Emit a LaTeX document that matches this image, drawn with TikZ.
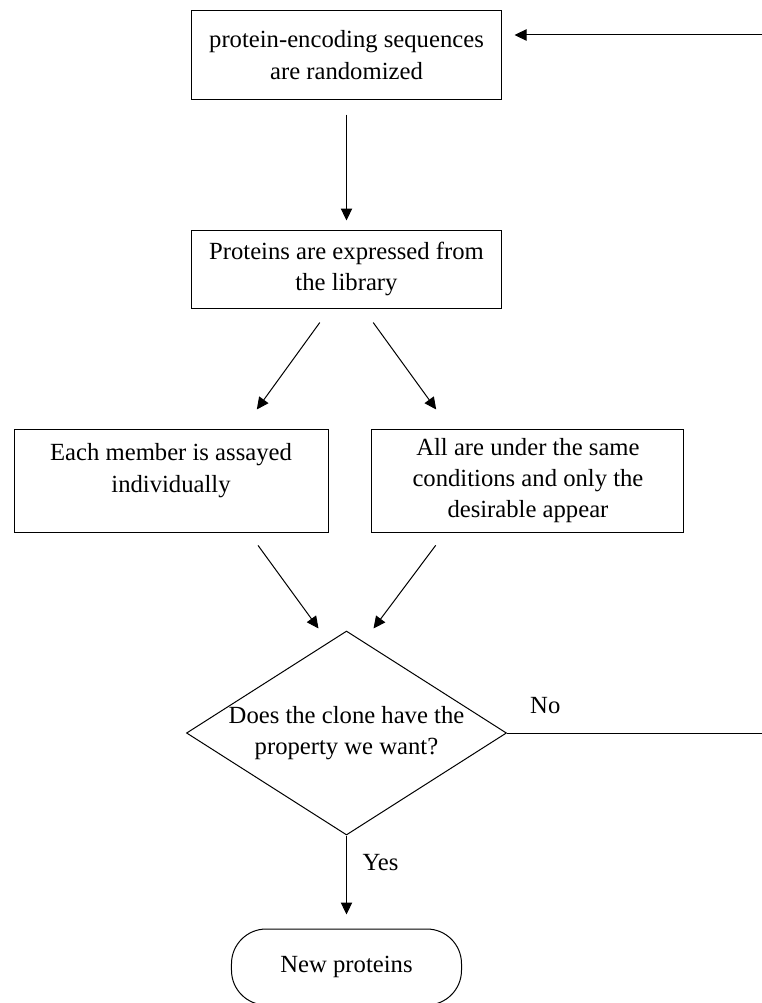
\documentclass[tikz,border=0pt]{standalone}
\usepackage{fontspec}
\setmainfont{Liberation Serif}
\usepackage{tikz}
\usetikzlibrary{arrows.meta, positioning, shapes}

\begin{document}
\begin{tikzpicture}[
    font=\fontsize{18.5}{23.5}\selectfont,
    line width=0.75pt,
    box/.style={
        rectangle,
        draw,
        align=center,
        minimum width=231.75pt,
        minimum height=66pt
    },
    choice/.style={
        diamond,
        draw,
        align=center,
        aspect=1.57,
        inner sep=0pt,
        minimum width=240pt,
        minimum height=153pt
    },
    ending/.style={
        rectangle,
        rounded corners=26pt,
        draw,
        align=center,
        minimum width=172.5pt,
        minimum height=57pt
    },
    arrow/.style={-{Triangle[length=9pt,width=8.5pt]}}
]

\useasboundingbox (-259.875pt,41.25pt) rectangle (310.875pt,-711pt);

\node[box] (random) {
    protein-encoding sequences\\
    are randomized
};

\node[box, below=97.5pt of random, minimum height=58.5pt] (express) {
    Proteins are expressed from\\
    the library
};

\node[box, below=90pt of express, xshift=-131.6pt,
      minimum width=235.5pt, minimum height=77.25pt, text depth=19pt] (assay) {
    Each member is assayed\\
    individually
};

\node[box, below=90pt of express, xshift=136.1pt,
      minimum width=234pt, minimum height=77.25pt] (select) {
    All are under the same\\
    conditions and only the\\
    desirable appear
};

\node[choice, below=241.5pt of express] (clone) {
    Does the clone have the\\
    property we want?
};

\node[ending, below=69.75pt of clone] (new) {New proteins};

\node[above right=10.9pt and 13.7pt of clone.east] (no) {No};
\node[below right=10.7pt and 8.3pt of clone.south] (yes) {Yes};

\coordinate (rim) at (316pt,0 |- clone.east);

\draw[arrow, shorten <=11.25pt, shorten >=6.75pt] (random) -- (express);
\draw[arrow, shorten <=13pt, shorten >=17.6pt] ([xshift=-12.4pt]express.south) -- ([xshift=54pt]assay.north);
\draw[arrow, shorten <=13pt, shorten >=17.6pt] ([xshift=12.4pt]express.south) -- ([xshift=-58.5pt]select.north);
\draw[arrow, shorten <=12pt] ([xshift=58.2pt]assay.south) -- ([xshift=-21pt, yshift=1.5pt]clone.north);
\draw[arrow, shorten <=12pt] ([xshift=-62pt]select.south) -- ([xshift=20.25pt, yshift=1.5pt]clone.north);
\draw[arrow, shorten >=10.5pt] (clone) -- (new);
\draw[arrow, shorten >=9.75pt] (clone.east) -- (rim) |- ([yshift=15pt]random.east);

\end{tikzpicture}
\end{document}
